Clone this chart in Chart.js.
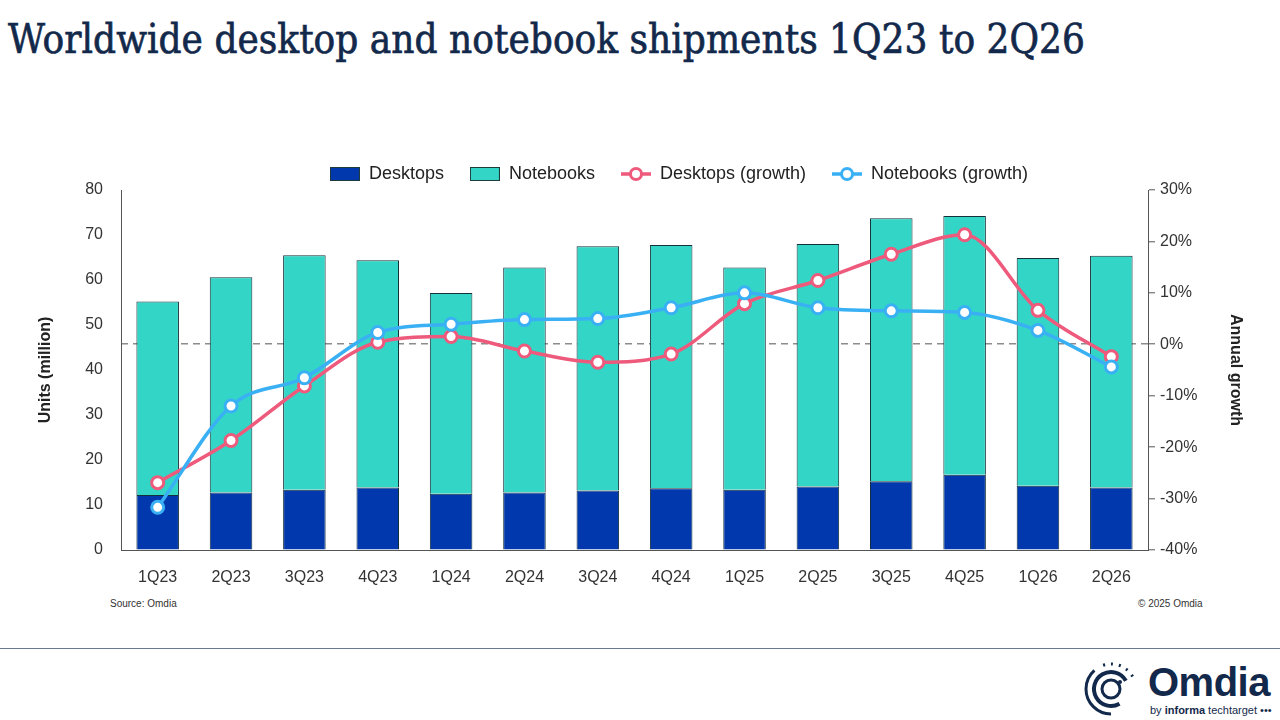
<!DOCTYPE html>
<html>
<head>
<meta charset="utf-8">
<script src="https://cdn.jsdelivr.net/npm/chart.js@4"></script>
<style>
  body { margin: 0; width: 1280px; height: 720px; background: #fff; position: relative; overflow: hidden; font-family: "Liberation Sans", Arial, sans-serif; }
  #title { position: absolute; left: 8px; top: 15px; margin: 0; font-family: "DejaVu Serif", serif; font-weight: normal; font-size: 41px; color: #13294b; white-space: nowrap; transform-origin: 0 0; -webkit-text-stroke: 0.7px #13294b; }
  #wrap { position: absolute; left: 20px; top: 136px; width: 1250px; height: 456px; }
  .note { position: absolute; top: 598px; font-size: 10px; color: #333; }
  #rule { position: absolute; left: 0; top: 648px; width: 1280px; height: 1px; background: #6b7a90; }
  #logo { position: absolute; left: 1082px; top: 660px; width: 198px; height: 60px; }
  #logo .word { position: absolute; left: 66px; top: 0px; font-size: 40px; font-weight: bold; color: #13294b; letter-spacing: -0.5px; }
  #logo .by { position: absolute; left: 68px; top: 44px; font-size: 11px; color: #13294b; white-space: nowrap; }
</style>
</head>
<body>
<h1 id="title">Worldwide desktop and notebook shipments 1Q23 to 2Q26</h1>
<div id="wrap"><canvas id="chart"></canvas></div>
<div class="note" style="left:110px">Source: Omdia</div>
<div class="note" style="left:1138px">© 2025 Omdia</div>
<div id="rule"></div>
<div id="logo">
  <svg width="58" height="58" viewBox="0 0 58 58" style="position:absolute;left:0;top:0">
    <circle cx="29" cy="29" r="25" fill="none" stroke="#13294b" stroke-width="3" stroke-dasharray="60 10 2 6 2 6 2 6 2 6 2 200" transform="rotate(90 29 29)"/>
    <circle cx="29" cy="29" r="17" fill="none" stroke="#13294b" stroke-width="4" stroke-dasharray="80 30" transform="rotate(60 29 29)"/>
    <circle cx="29" cy="29" r="9" fill="none" stroke="#13294b" stroke-width="3"/>
    <circle cx="38" cy="22" r="2" fill="#13294b"/>
  </svg>
  <div class="word">Omdia</div>
  <div class="by">by <b>informa</b> techtarget •••</div>
</div>
<script>
// ===================
// Data
// ===================
const quarters = ['1Q23', '2Q23', '3Q23', '4Q23', '1Q24', '2Q24', '3Q24', '4Q24', '1Q25', '2Q25', '3Q25', '4Q25', '1Q26', '2Q26'];
const desktops = [12.2, 12.8, 13.4, 13.9, 12.5, 12.8, 13.2, 13.7, 13.4, 14.1, 15.3, 16.7, 14.3, 13.9];
const notebooks = [43.0, 47.8, 52.1, 50.5, 44.6, 50.0, 54.3, 54.1, 49.4, 53.9, 58.4, 57.5, 50.6, 51.5];
const desktopGrowth = [-26.9, -18.7, -8.1, 0.4, 1.5, -1.3, -3.5, -1.9, 7.9, 12.4, 17.5, 21.3, 6.6, -2.4];
const notebookGrowth = [-31.7, -12.0, -6.5, 2.3, 3.9, 4.8, 5.0, 7.1, 10.0, 7.1, 6.5, 6.2, 2.7, -4.4];
const unitTicks = [0, 80, 10];
const growthTicks = [-40, 30, 10];

// squeeze the title to its width in the picture
const title = document.getElementById('title');
title.style.transform = 'scaleX(' + (1077 / title.offsetWidth) + ')';

const dark = '#333333';
const axisFont = { family: 'Liberation Sans', size: 16 };

// legend markers
function barMarker(fill) {
  const c = document.createElement('canvas');
  c.width = 30; c.height = 14;
  const g = c.getContext('2d');
  g.fillStyle = fill; g.fillRect(0.5, 0.5, 29, 13);
  g.strokeStyle = '#1d3b3b'; g.lineWidth = 1; g.strokeRect(0.5, 0.5, 29, 13);
  return c;
}
function lineMarker(color) {
  const c = document.createElement('canvas');
  c.width = 30; c.height = 16;
  const g = c.getContext('2d');
  g.strokeStyle = color; g.lineWidth = 3.5;
  g.beginPath(); g.moveTo(0, 8); g.lineTo(30, 8); g.stroke();
  g.fillStyle = '#fff'; g.lineWidth = 3;
  g.beginPath(); g.arc(15, 8, 5.5, 0, Math.PI * 2); g.fill(); g.stroke();
  return c;
}

// legend sits a bit right of the canvas centre and slightly lower in the picture
const legendNudge = {
  id: 'legendNudge',
  afterLayout(chart) {
    const l = chart.legend;
    l.left += 34; l.right += 34;
    l.top += 3; l.bottom += 3;
  }
};

const ctx = document.getElementById('chart').getContext('2d');

new Chart(ctx, {
  data: {
    labels: quarters,
    datasets: [
      {
        type: 'bar', label: 'Desktops', data: desktops, yAxisID: 'y', order: 2,
        backgroundColor: '#0238ad', borderColor: '#14303a', borderWidth: 1,
        marker: barMarker('#0238ad')
      },
      {
        type: 'bar', label: 'Notebooks', data: notebooks, yAxisID: 'y', order: 2,
        backgroundColor: '#33d6c6', borderColor: '#14303a', borderWidth: 1,
        marker: barMarker('#33d6c6')
      },
      {
        type: 'line', label: 'Desktops (growth)', data: desktopGrowth, yAxisID: 'y1', order: 1,
        borderColor: '#ee5a7c', borderWidth: 3.5, tension: 0.4, cubicInterpolationMode: 'monotone',
        pointRadius: 6, pointBorderWidth: 3, pointBackgroundColor: '#fff', pointBorderColor: '#ee5a7c',
        marker: lineMarker('#ee5a7c')
      },
      {
        type: 'line', label: 'Notebooks (growth)', data: notebookGrowth, yAxisID: 'y1', order: 0,
        borderColor: '#3ab0f4', borderWidth: 3.5, tension: 0.4, cubicInterpolationMode: 'monotone',
        pointRadius: 6, pointBorderWidth: 3, pointBackgroundColor: '#fff', pointBorderColor: '#3ab0f4',
        marker: lineMarker('#3ab0f4')
      }
    ]
  },
  plugins: [legendNudge],
  options: {
    responsive: true,
    maintainAspectRatio: false,
    animation: false,
    datasets: { bar: { categoryPercentage: 1, barPercentage: 0.58 } },
    plugins: {
      tooltip: { enabled: false },
      legend: {
        position: 'top',
        labels: {
          color: '#222',
          font: { family: 'Liberation Sans', size: 18 },
          usePointStyle: true,
          pointStyleWidth: 30,
          padding: 26,
          generateLabels: chart => chart.data.datasets.map((d, i) => ({
            text: d.label,
            pointStyle: d.marker,
            datasetIndex: i,
            fontColor: '#222',
            hidden: false
          }))
        }
      }
    },
    scales: {
      x: {
        stacked: true,
        grid: { display: false },
        border: { display: true, color: '#555', width: 1 },
        ticks: { color: dark, font: axisFont, padding: 10 },
        afterFit: s => { s.height = 42; }
      },
      y: {
        position: 'left',
        stacked: true,
        min: unitTicks[0], max: unitTicks[1],
        ticks: { stepSize: unitTicks[2], color: dark, font: axisFont, padding: 18 },
        grid: { display: true, color: 'transparent', drawTicks: false },
        border: { display: true, color: '#555', width: 1 },
        title: { display: true, text: 'Units (million)', color: '#222', font: { family: 'Liberation Sans', size: 16, weight: 'bold' }, padding: { top: 16, bottom: 0 } },
        afterFit: s => { s.width = 101; }
      },
      y1: {
        position: 'right',
        stacked: false,
        min: growthTicks[0], max: growthTicks[1],
        ticks: { stepSize: growthTicks[2], color: dark, font: axisFont, padding: 5, callback: v => v + '%' },
        grid: {
          drawOnChartArea: true,
          color: c => (c.tick && c.tick.value === 0) ? '#8c8c8c' : 'transparent',
          lineWidth: 1.6,
          tickColor: '#555',
          tickLength: 7,
          tickWidth: 1
        },
        border: { display: true, color: '#555', width: 1, dash: [7, 5] },
        title: { display: true, text: 'Annual growth', color: '#222', font: { family: 'Liberation Sans', size: 16, weight: 'bold' }, padding: { top: 25, bottom: 0 } },
        afterFit: s => { s.width = 122; }
      }
    }
  }
});
</script>
</body>
</html>
